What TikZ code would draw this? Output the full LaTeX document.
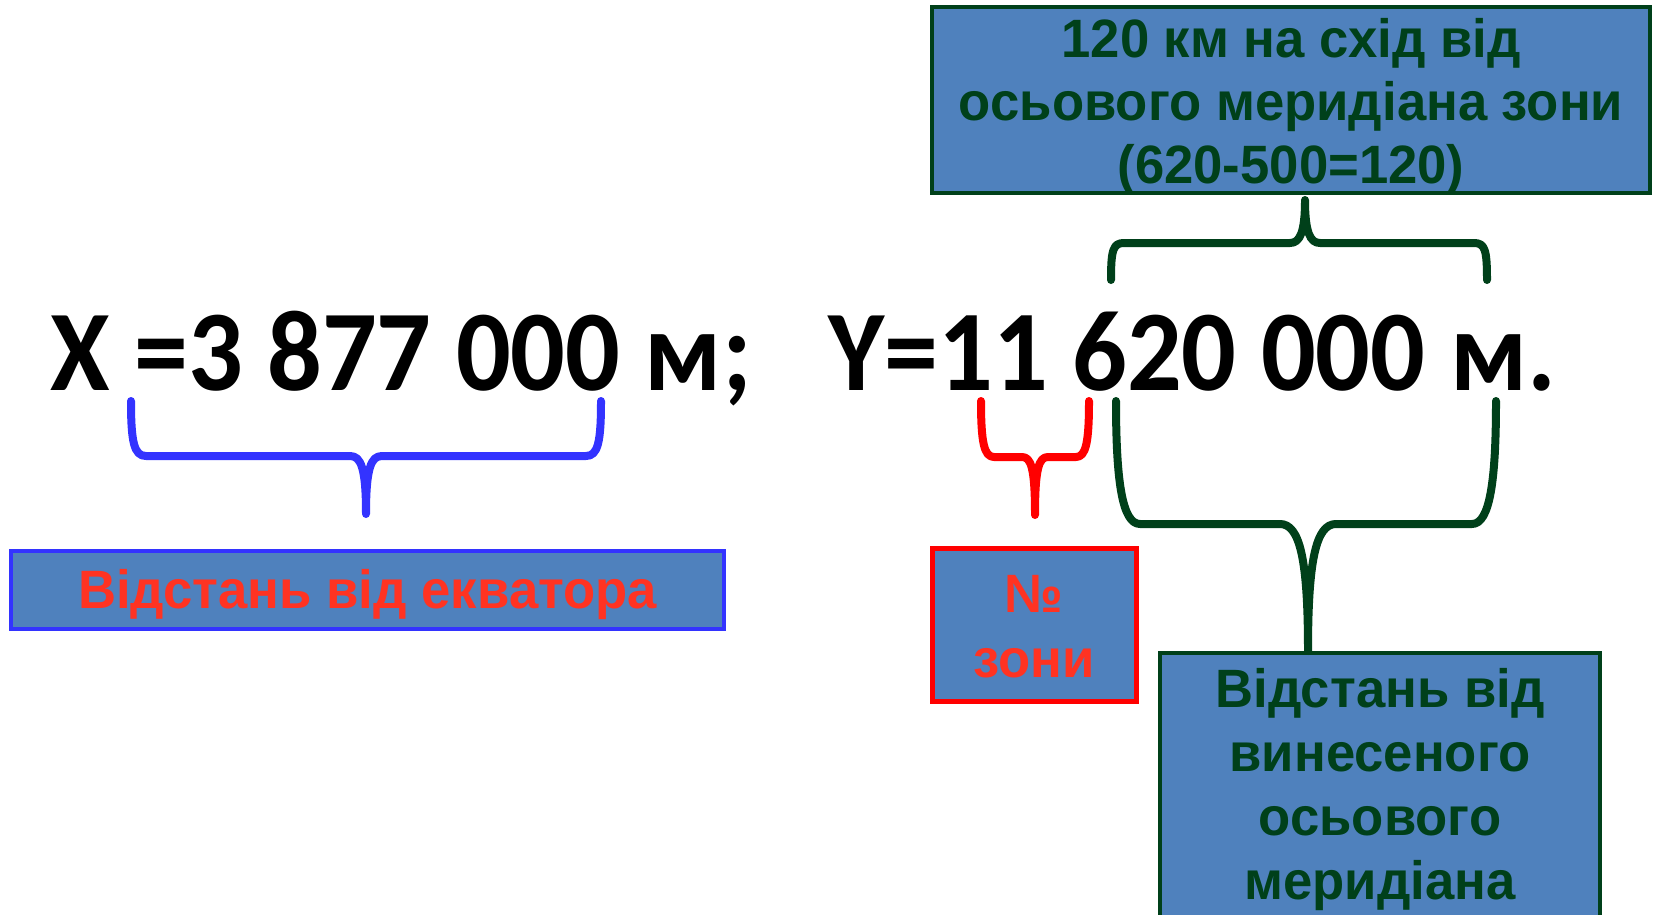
\documentclass[tikz,border=0pt]{standalone}
\usepackage{fontspec}
\setmainfont{Carlito}
\newfontfamily\eqfont{Carlito}[FakeStretch=0.94]
\newfontfamily\nar{Liberation Sans}[FakeStretch=0.975]
\definecolor{boxblue}{HTML}{4F81BD}
\definecolor{brblue}{HTML}{3333FF}
\definecolor{dgreen}{HTML}{00401A}
\definecolor{tred}{HTML}{FF3322}
\begin{document}
\begin{tikzpicture}[x=1pt,y=-1pt,
  brace/.style={line width=8pt, line cap=round, line join=round},
  lblbox/.style={rectangle, fill=boxblue, inner sep=0pt},
  lbltxt/.style={inner sep=0pt, align=center,
    font=\nar\bfseries\fontsize{54}{63}\selectfont},
  eq/.style={anchor=base west, inner sep=0pt, font=\eqfont\bfseries\fontsize{115}{130}\selectfont}]
\useasboundingbox (0,0) rectangle (1654,915);
% equation
\node[eq] (xeq) at (50,390) {X =3 877 000 м;};
\node[eq] (yeq) at (828,390) {Y=11 620 000 м.};
% boxes
\node[lblbox, draw=dgreen, line width=4pt, minimum width=718pt, minimum height=186pt] (top) at (1291,100) {};
\node[lbltxt, text=dgreen] (topt) at ([yshift=-7pt]top.center)
  {120 км на схід від\\осьового меридіана зони\\(620-500=120)};
\node[lblbox, draw=brblue, line width=4.5pt, minimum width=713pt, minimum height=78pt] (eqv) at (367.5,590) {};
\node[lbltxt, text=tred] (eqvt) at ([yshift=-5pt]eqv.center) {Відстань від екватора};
\node[lblbox, draw=red, line width=5pt, minimum width=204pt, minimum height=153pt] (zone) at (1034,624.5) {};
\node[lbltxt, text=tred, font=\nar\bfseries\fontsize{54}{65}\selectfont] (zonet) at ([yshift=-2pt]zone.center) {№\\зони};
\node[lblbox, draw=dgreen, line width=4pt, minimum width=440pt, minimum height=267pt] (mer) at (1380,786.5) {};
\node[lbltxt, text=dgreen, font=\nar\bfseries\fontsize{54}{64}\selectfont] (mert) at ([yshift=-3pt]mer.center)
  {Відстань від\\винесеного\\осьового\\меридіана};
% braces
\coordinate (bt) at (366,514);
\draw[brace, brblue] (131,401) .. controls (131,442) and (134,456) .. (146,456) -- (350,456)
  .. controls (361,456) and (366,468) .. (bt) .. controls (366,468) and (371,456) .. (382,456)
  -- (586,456) .. controls (598,456) and (601,442) .. (601,401);
\coordinate (rt) at (1035,515);
\draw[brace, red] (981,401) .. controls (981,442) and (984,457) .. (994,457) -- (1022,457)
  .. controls (1031,457) and (1035,468) .. (rt) .. controls (1035,468) and (1039,457) .. (1048,457)
  -- (1076,457) .. controls (1086,457) and (1089,442) .. (1089,401);
\coordinate (gt) at (1305,200);
\draw[brace, dgreen] (1111,280) .. controls (1111,250) and (1113,243) .. (1124,243) -- (1290,243)
  .. controls (1300,243) and (1305,232) .. (gt) .. controls (1305,232) and (1310,243) .. (1320,243)
  -- (1474,243) .. controls (1485,243) and (1487,250) .. (1487,280);
\coordinate (mt) at (1308,651);
\draw[brace, dgreen] (1116,401) .. controls (1116,480) and (1122,524) .. (1140,524) -- (1280,524)
  .. controls (1300,524) and (1308,560) .. (mt) .. controls (1308,560) and (1316,524) .. (1336,524)
  -- (1472,524) .. controls (1490,524) and (1496,480) .. (1496,401);
\end{tikzpicture}
\end{document}
